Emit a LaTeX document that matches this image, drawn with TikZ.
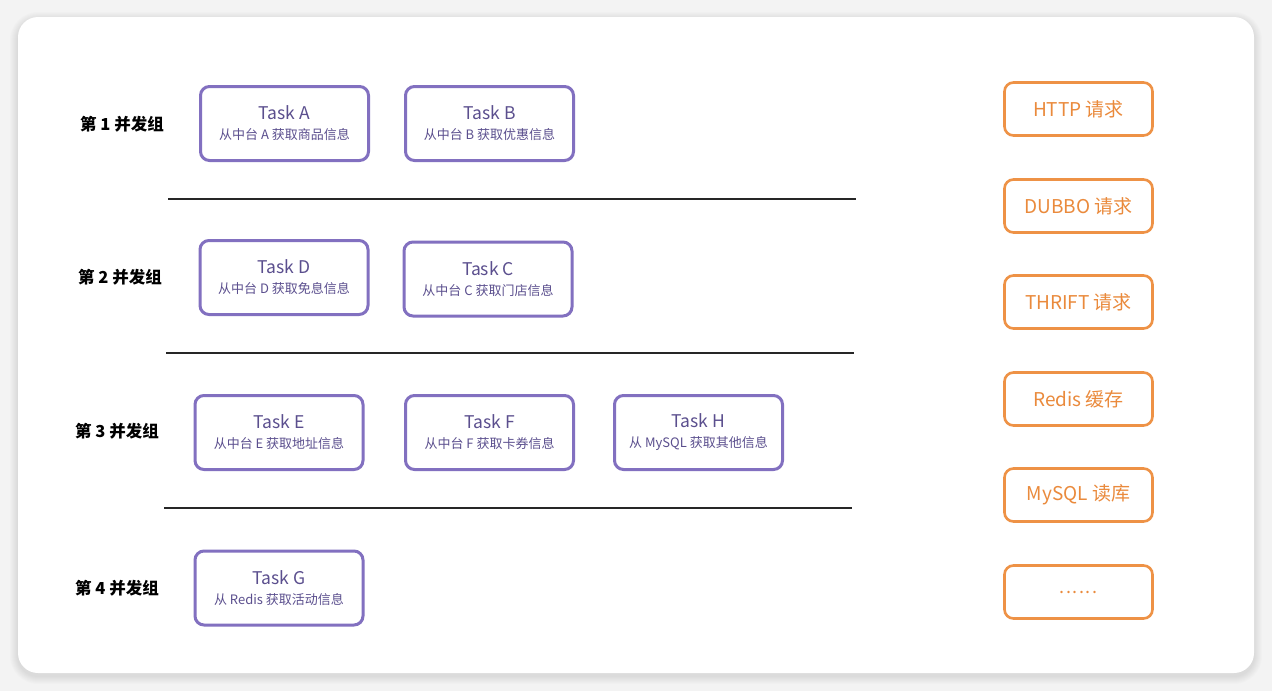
\documentclass[tikz,border=0pt]{standalone}
\usepackage{fontspec}
\setmainfont{Noto Sans CJK SC}
\usepackage{xcolor}
\usetikzlibrary{positioning,calc}

\definecolor{bgGray}{HTML}{F3F3F3}
\definecolor{taskLine}{HTML}{8270C0}
\definecolor{taskText}{HTML}{5B4F8E}
\definecolor{srcLine}{HTML}{EE9246}
\definecolor{srcText}{HTML}{EA8A3C}

\tikzset{
    taskbox/.style={draw=taskLine, line width=3pt, rounded corners=9pt,
        minimum width=168pt, minimum height=74pt, align=center,
        text=taskText, inner sep=0pt, font=\fontsize{17.5}{20}\selectfont},
    srcbox/.style={draw=srcLine, line width=2.6pt, rounded corners=9pt,
        minimum width=148pt, minimum height=53pt, text=srcText,
        font=\fontsize{19}{22}\selectfont},
    grouplabel/.style={font=\bfseries\fontsize{16.5}{20}\selectfont, text=black},
    sepline/.style={line width=2.8pt, black!85}
}

\newcommand{\tasktext}[2]{#1\\[0pt]{\fontsize{13}{15}\selectfont #2}}

\begin{document}
\begin{tikzpicture}[x=1pt, y=-1pt]
    \useasboundingbox (0,0) rectangle (1272,691);
    \fill[bgGray] (0,0) rectangle (1272,691);

    % Card with soft shadow
    \foreach \i in {1,...,8}
        \fill[black, opacity=0.012, rounded corners=20+\i] (18-\i,17-\i+3) rectangle (1254+\i,673+\i+3);
    \fill[white, rounded corners=20] (18,17) rectangle (1254,673);

    % Group labels
    \node[grouplabel] (g1) at (122,124) {第 1 并发组};
    \node[grouplabel] (g2) at (120,277) {第 2 并发组};
    \node[grouplabel] (g3) at (117,431) {第 3 并发组};
    \node[grouplabel] (g4) at (117,588) {第 4 并发组};

    % Tasks
    \node[taskbox] (taskA) at (284.5,123.5) {\tasktext{Task A}{从中台 A 获取商品信息}};
    \node[taskbox] (taskB) at (489.5,123.5) {\tasktext{Task B}{从中台 B 获取优惠信息}};
    \node[taskbox] (taskD) at (284,277.5) {\tasktext{Task D}{从中台 D 获取免息信息}};
    \node[taskbox] (taskC) at (488,279) {\tasktext{Task C}{从中台 C 获取门店信息}};
    \node[taskbox] (taskE) at (279,432.5) {\tasktext{Task E}{从中台 E 获取地址信息}};
    \node[taskbox] (taskF) at (489.5,432.5) {\tasktext{Task F}{从中台 F 获取卡券信息}};
    \node[taskbox] (taskH) at (698.5,432.5) {\tasktext{Task H}{从 MySQL 获取其他信息}};
    \node[taskbox] (taskG) at (279,588) {\tasktext{Task G}{从 Redis 获取活动信息}};

    % Separators
    \draw[sepline] (168,199) -- (856,199);
    \draw[sepline] (166,353) -- (854,353);
    \draw[sepline] (164,508) -- (852,508);

    % Sources
    \node[srcbox] (http) at (1078.5,109) {HTTP 请求};
    \node[srcbox] (dubbo) at (1078.5,206) {DUBBO 请求};
    \node[srcbox] (thrift) at (1078.5,302) {THRIFT 请求};
    \node[srcbox] (redis) at (1078.5,399) {Redis 缓存};
    \node[srcbox] (mysql) at (1078.5,495) {MySQL 读库};
    \node[srcbox] (more) at (1078.5,592) {{\fontsize{18}{20}\selectfont .\kern1.5pt.\kern1.5pt.\kern1.5pt.\kern1.5pt.\kern1.5pt.}};
\end{tikzpicture}
\end{document}
